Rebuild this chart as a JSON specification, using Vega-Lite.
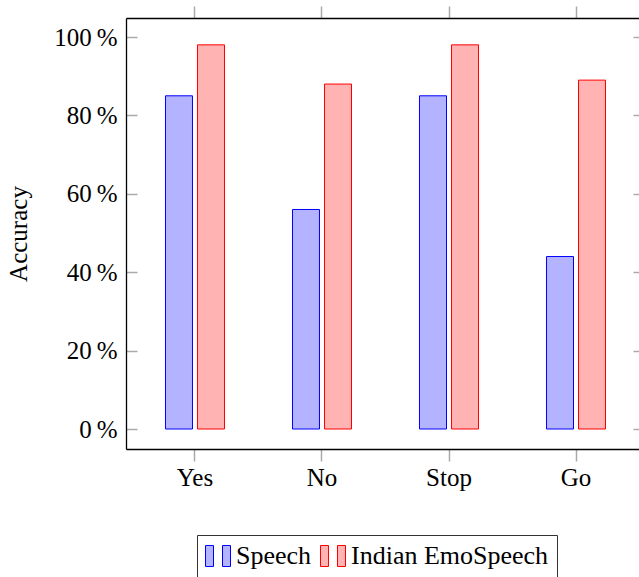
{
  "$schema": "https://vega.github.io/schema/vega-lite/v6.json",
  "width": 513,
  "height": 431,
  "autosize": {"type": "none"},
  "padding": {"left": 126, "top": 18, "right": 0, "bottom": 128},
  "background": "white",
  "config": {
    "view": {"stroke": null},
    "font": "Liberation Serif",
    "axis": {"labelFont": "Liberation Serif", "titleFont": "Liberation Serif", "labelColor": "black", "titleColor": "black", "grid": false},
    "legend": {"labelFont": "Liberation Serif", "labelColor": "black"}
  },
  "data": {
    "values": [
      {"word": "Yes", "set": "Speech", "acc": 85},
      {"word": "Yes", "set": "Indian EmoSpeech", "acc": 98},
      {"word": "No", "set": "Speech", "acc": 56},
      {"word": "No", "set": "Indian EmoSpeech", "acc": 88},
      {"word": "Stop", "set": "Speech", "acc": 85},
      {"word": "Stop", "set": "Indian EmoSpeech", "acc": 98},
      {"word": "Go", "set": "Speech", "acc": 44},
      {"word": "Go", "set": "Indian EmoSpeech", "acc": 89}
    ]
  },
  "resolve": {"scale": {"x": "shared", "y": "shared"}, "axis": {"x": "independent", "y": "independent"}},
  "layer": [
    {
      "mark": {"type": "bar", "strokeWidth": 1},
      "encoding": {
        "x": {
          "field": "word", "type": "nominal", "sort": ["Yes", "No", "Stop", "Go"],
          "scale": {"range": [0, 519], "paddingInner": 0.5354, "paddingOuter": 0.311},
          "axis": {"orient": "bottom", "title": null, "labelAngle": 0, "labelFontSize": 25, "labelPadding": 4,
                   "tickSize": 12, "tickColor": "#aaaaaa", "tickWidth": 1.5, "domainColor": "black", "domainWidth": 1.3}
        },
        "xOffset": {
          "field": "set", "type": "nominal",
          "scale": {"domain": ["Speech", "Indian EmoSpeech"], "paddingInner": 0.15625, "paddingOuter": 0}
        },
        "y": {
          "field": "acc", "type": "quantitative",
          "scale": {"domain": [-5.1, 104.85], "nice": false, "zero": false},
          "axis": {"orient": "left", "title": "Accuracy", "titleFontSize": 25, "titleFontWeight": "normal", "titlePadding": 22,
                   "values": [0, 20, 40, 60, 80, 100], "labelExpr": "datum.value + '\u2009%'", "labelFontSize": 25,
                   "tickSize": -11, "labelPadding": 20, "tickColor": "#aaaaaa", "tickWidth": 1.5,
                   "domainColor": "black", "domainWidth": 1.3}
        },
        "fill": {
          "field": "set", "type": "nominal",
          "scale": {"domain": ["Speech", "Indian EmoSpeech"], "range": ["#b3b3ff", "#ffb3b3"]},
          "legend": {
            "title": null, "orient": "none", "legendX": 71, "legendY": 517, "direction": "horizontal",
            "symbolType": "M-1,-0.84H-0.36V0.84H-1Z M0.36,-0.84H1V0.84H0.36Z", "symbolSize": 625,
            "symbolStrokeWidth": 1, "labelFontSize": 26, "labelOffset": 5, "columnPadding": 6, "labelLimit": 0,
            "padding": 8, "strokeColor": "#333333", "fillColor": "white"
          }
        },
        "stroke": {
          "field": "set", "type": "nominal",
          "scale": {"domain": ["Speech", "Indian EmoSpeech"], "range": ["#0000ff", "#ff0000"]},
          "legend": {
            "title": null, "orient": "none", "legendX": 71, "legendY": 517, "direction": "horizontal",
            "symbolType": "M-1,-0.84H-0.36V0.84H-1Z M0.36,-0.84H1V0.84H0.36Z", "symbolSize": 625,
            "symbolStrokeWidth": 1, "labelFontSize": 26, "labelOffset": 5, "columnPadding": 6, "labelLimit": 0,
            "padding": 8, "strokeColor": "#333333", "fillColor": "white"
          }
        }
      }
    },
    {
      "mark": {"type": "point", "opacity": 0},
      "encoding": {
        "x": {
          "field": "word", "type": "nominal", "sort": ["Yes", "No", "Stop", "Go"],
          "axis": {"orient": "top", "title": null, "labels": false, "tickSize": 12, "tickColor": "#aaaaaa", "tickWidth": 1.5,
                   "domainColor": "black", "domainWidth": 1.3}
        },
        "y": {
          "field": "acc", "type": "quantitative",
          "axis": {"orient": "right", "title": null, "labels": false, "values": [0, 20, 40, 60, 80, 100],
                   "tickSize": -6, "tickColor": "#aaaaaa", "tickWidth": 1.5, "domain": false}
        }
      }
    }
  ]
}
